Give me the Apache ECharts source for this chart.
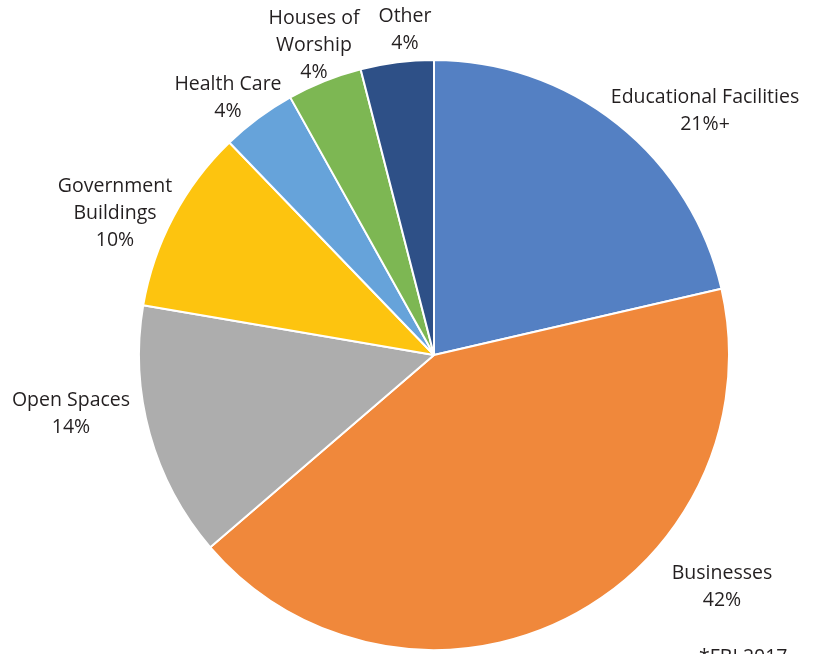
<!DOCTYPE html>
<html>
<head>
<meta charset="utf-8">
<script src="https://cdn.jsdelivr.net/npm/echarts@6/dist/echarts.min.js"></script>
<style>html,body{margin:0;padding:0;background:#fff;}#c{width:819px;height:654px;}</style>
</head>
<body>
<div id="c"></div>
<script>
const categories = ['Educational Facilities', 'Businesses', 'Open Spaces', 'Government\nBuildings', 'Health Care', 'Houses of\nWorship', 'Other'];
const values = [21.4, 42.3, 14.0, 10.1, 4.1, 4.1, 4.0];
const pctLabels = ['21%+', '42%', '14%', '10%', '4%', '4%', '4%'];
const colors = ['#5480C3', '#F0883B', '#ADADAD', '#FDC40F', '#66A3DA', '#7DB753', '#2E5087'];
// label centre positions (layout, not data)
const labelPos = [[705, 110.5], [722, 586.5], [71, 413.5], [115, 213], [228, 98], [314, 45], [405, 29.5]];

const chart = echarts.init(document.getElementById('c'), null, {renderer: 'canvas'});
chart.setOption({
  animation: false,
  title: {
    text: '*FBI 2017', left: 694, top: 642,
    textStyle: {fontFamily: 'Open Sans', fontSize: 19.5, fontWeight: 'normal', color: '#231f20'}
  },
  series: [{
    type: 'pie',
    center: [434, 355],
    radius: 295,
    startAngle: 90,
    clockwise: true,
    avoidLabelOverlap: false,
    itemStyle: {borderColor: '#fff', borderWidth: 2},
    label: {
      show: true,
      position: 'outside',
      fontFamily: 'Open Sans',
      fontSize: 19.5,
      lineHeight: 27,
      color: '#231f20',
      align: 'center',
      formatter: p => p.name + '\n' + pctLabels[p.dataIndex]
    },
    labelLine: {show: false},
    labelLayout: p => ({
      x: labelPos[p.dataIndex][0],
      y: labelPos[p.dataIndex][1],
      align: 'center',
      verticalAlign: 'middle'
    }),
    data: categories.map((n, i) => ({name: n, value: values[i], itemStyle: {color: colors[i]}}))
  }]
});
</script>
</body>
</html>
